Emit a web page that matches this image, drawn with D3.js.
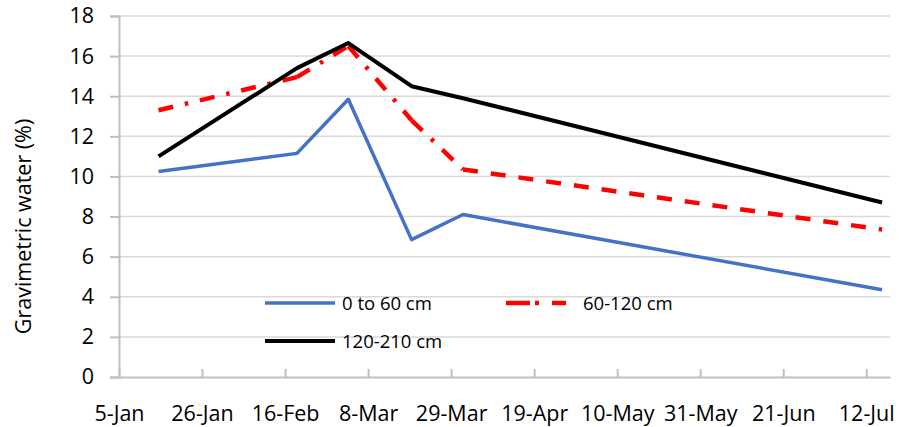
<!DOCTYPE html>
<html>
<head>
<meta charset="utf-8">
<script src="https://cdn.jsdelivr.net/npm/d3@7/dist/d3.min.js"></script>
<style>
  html, body { margin: 0; padding: 0; background: #fff; }
  svg { display: block; }
  text { font-family: "Open Sans", sans-serif; fill: #000; }
</style>
</head>
<body>
<svg id="chart" width="899" height="427"></svg>
<script>
// ---- data ----
const sampleDates = ["2016-01-15", "2016-02-19", "2016-03-03", "2016-03-19", "2016-04-01", "2016-07-16"];
const shallow = [10.25, 11.15, 13.85, 6.85, 8.1, 4.35];   // 0 to 60 cm
const middle  = [13.3, 14.95, 16.5, 12.8, 10.35, 7.35];   // 60-120 cm
const deep    = [11.0, 15.4, 16.65, 14.5, 13.9, 8.7];     // 120-210 cm
const seriesNames = ["0 to 60 cm", "60-120 cm", "120-210 cm"];
const xTickDates = ["2016-01-05", "2016-01-26", "2016-02-16", "2016-03-08", "2016-03-29",
                    "2016-04-19", "2016-05-10", "2016-05-31", "2016-06-21", "2016-07-12"];
const xTickLabels = ["5-Jan", "26-Jan", "16-Feb", "8-Mar", "29-Mar", "19-Apr", "10-May", "31-May", "21-Jun", "12-Jul"];
const yTicks = [0, 2, 4, 6, 8, 10, 12, 14, 16, 18];
const yTitle = "Gravimetric water (%)";
const xDomain = ["2016-01-05", "2016-07-18"];

// ---- setup ----
(function () {
const parse = d3.timeParse("%Y-%m-%d");
const svg = d3.select("#chart");
const pLeft = 119, pRight = 890, pTop = 16, pBottom = 377;

const x = d3.scaleTime().domain(xDomain.map(parse)).range([pLeft, pRight]);
const y = d3.scaleLinear().domain([0, 18]).range([pBottom, pTop]);

// gridlines
svg.append("g").selectAll("line").data(yTicks.filter(d => d > 0)).join("line")
  .attr("x1", pLeft).attr("x2", pRight)
  .attr("y1", d => y(d)).attr("y2", d => y(d))
  .attr("stroke", "#d9d9d9").attr("stroke-width", 1.5);

// y axis
const yAxis = d3.axisLeft(y).tickValues(yTicks).tickSize(9).tickPadding(16).tickFormat(d3.format("d"));
const gy = svg.append("g").attr("transform", `translate(${pLeft},0)`).call(yAxis);
gy.select(".domain").attr("stroke", "#bfbfbf").attr("stroke-width", 2);
gy.selectAll(".tick line").attr("stroke", "#bfbfbf").attr("stroke-width", 2);
gy.selectAll(".tick text").style("font-family", "Open Sans").style("font-size", "21.5px").attr("fill", "#000");

// x axis
const xAxis = d3.axisBottom(x).tickValues(xTickDates.map(parse))
  .tickFormat((d, i) => xTickLabels[i]).tickSizeInner(-8).tickSizeOuter(0).tickPadding(0);
const gx = svg.append("g").attr("transform", `translate(0,${pBottom})`).call(xAxis);
gx.select(".domain").attr("stroke", "#bfbfbf").attr("stroke-width", 2);
gx.selectAll(".tick line").attr("stroke", "#bfbfbf").attr("stroke-width", 2);
gx.selectAll(".tick text").style("font-family", "Open Sans").style("font-size", "21.5px")
  .attr("fill", "#000").attr("dy", null).attr("y", 44);

// y title
svg.append("text")
  .attr("transform", `translate(31,${(pTop + pBottom) / 2 + 30}) rotate(-90)`)
  .attr("text-anchor", "middle")
  .style("font-size", "21.5px")
  .text(yTitle);

// lines (each segment drawn separately so the dash pattern restarts per segment)
const series = [
  { name: seriesNames[0], values: shallow, color: "#4472c4", width: 3.5, dash: null, lastDash: null, legendDash: null },
  { name: seriesNames[1], values: middle, color: "#ff0000", width: 4.5, dash: "15 12 3.5 12", lastDash: "15 13", legendDash: "24 5 4 13 24" },
  { name: seriesNames[2], values: deep, color: "#000000", width: 4, dash: null, lastDash: null, legendDash: null }
];
const line = d3.line().x(d => x(d.date)).y(d => y(d.v));
const dates = sampleDates.map(parse);
series.forEach(s => {
  const pts = s.values.map((v, i) => ({ date: dates[i], v }));
  if (!s.dash) {
    svg.append("path").datum(pts).attr("d", line)
      .attr("fill", "none").attr("stroke", s.color).attr("stroke-width", s.width)
      .attr("stroke-linejoin", "round");
  } else {
    const segs = d3.pairs(pts);
    svg.append("g").selectAll("path").data(segs).join("path")
      .attr("d", line)
      .attr("fill", "none").attr("stroke", s.color).attr("stroke-width", s.width)
      .attr("stroke-dasharray", (d, i) => i === segs.length - 1 ? s.lastDash : s.dash);
  }
});

// legend
const legendPos = [
  { x: 265, y: 303 },
  { x: 506, y: 303 },
  { x: 265, y: 341 }
];
series.forEach((s, i) => {
  const p = legendPos[i];
  const len = i === 1 ? 60 : 70;
  svg.append("line")
    .attr("x1", p.x).attr("x2", p.x + len)
    .attr("y1", p.y).attr("y2", p.y)
    .attr("stroke", s.color).attr("stroke-width", s.width)
    .attr("stroke-dasharray", s.legendDash);
  svg.append("text")
    .attr("x", p.x + len + (i === 1 ? 17 : 7))
    .attr("y", p.y + 7)
    .style("font-size", "18.5px")
    .text(s.name);
});
})();
</script>
</body>
</html>
